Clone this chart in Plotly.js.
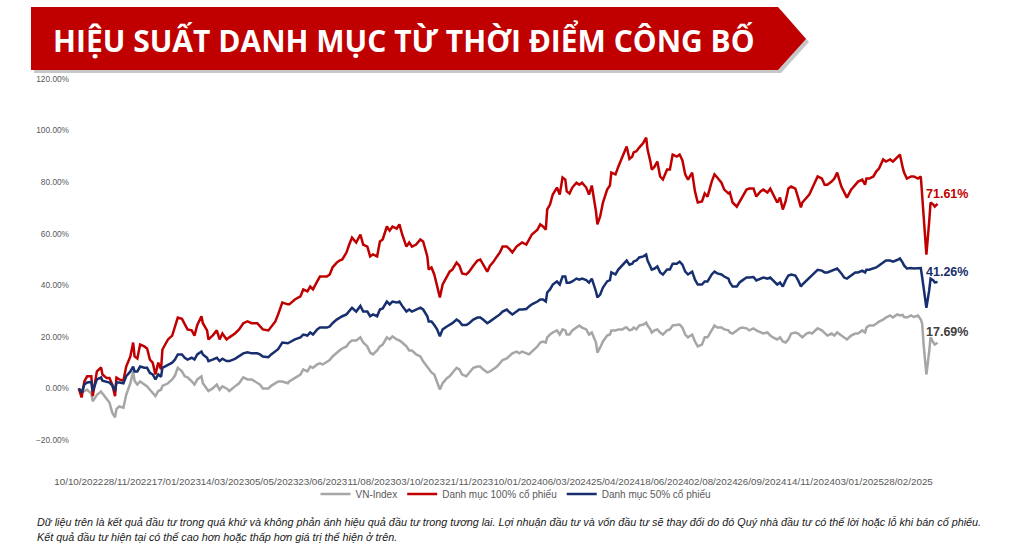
<!DOCTYPE html>
<html>
<head>
<meta charset="utf-8">
<script src="https://cdn.plot.ly/plotly-3.0.1.min.js"></script>
<style>
  html, body { margin: 0; padding: 0; background: #ffffff; }
  #chart { width: 1024px; height: 548px; }
</style>
</head>
<body>
<div id="chart"></div>
<script>
// trading session number since 10/10/2022 (category axis, like the Excel source)
var session = [
  0,2,4,6,9,10,13,16,17,20,22,24,26,27,29,32,34,37,39,40,
  42,44,47,49,51,53,55,57,59,60,64,67,69,71,74,76,78,81,83,85,
  88,89,92,93,96,99,101,103,106,108,112,115,118,121,124,128,130,132,136,138,
  141,143,146,150,
  151,155,159,161,164,166,168,171,173,175,178,180,182,185,187,189,192,194,196,199,
  202,204,207,209,211,214,216,218,221,223,225,228,230,232,235,237,239,242,245,247,
  250,251,253,255,257,259,261,264,266,268,271,273,275,278,280,283,286,288,290,293,
  295,297,300,302,304,307,309,
  311,314,316,318,321,323,325,329,331,333,335,336,338,340,343,345,347,349,350,352,
  354,357,359,361,364,366,368,371,372,374,376,379,381,382,385,387,390,392,393,395,
  397,398,400,402,405,407,408,410,411,413,415,417,419,422,424,426,429,431,433,435,
  437,440,442,444,447,449,451,454,456,458,461,463,466,
  467,469,472,474,476,479,481,484,486,489,491,494,496,498,501,503,505,507,509,511,
  514,516,518,519,522,524,526,528,530,533,535,537,540,542,544,547,549,551,554,557,
  559,562,564,565,567,570,572,574,577,579,582,584,587,589,591,592,594,597,599,602,
  604,605,606,608,610,611,613,614,616
];

var vnIndex = [
  0,-1.6,-1,-0.5,-2,-5,-2.5,-1.2,-2,-4.3,-5.5,-9.4,-11.2,-8,-7,-7.5,-2.5,2,6.6,3,
  1.5,2.7,1.5,0.8,-0.5,-1.6,-3,-1,-0.5,1,2,3.5,5,8,6.6,4.7,4.3,2.7,1.5,3.5,
  4.7,2,0,-1,0,1.5,-0.5,0.8,0,-1,0.8,2,4.3,3.5,3.5,2,1.5,0,0,1,
  2,2.7,2.7,2,
  2.7,4,5.4,7.4,6.6,8.5,8,9.3,9.7,9.3,10.5,11,12.4,13.9,14.7,15.5,16.3,17.8,18.6,18.6,
  19.8,17.8,16.3,13.9,13.2,14.7,16.3,17,19.8,19,20.2,19,18.6,17.8,16.3,14.7,14.7,13.2,12.4,10.5,
  8.5,7.4,6.2,5.4,2.7,-0.4,2,4,4.7,6.2,8,7.4,5.4,4.7,6.2,8,8.5,8.5,7.4,6.2,
  6.6,7.4,8.5,9.7,11,11.6,12.8,
  13.6,14.3,13.6,14.3,13.6,13.2,14.3,16.3,17.8,18.2,17.8,19.8,20.9,21.7,22.5,20.9,22.9,22.5,20.9,20.9,
  22.5,23.6,24.4,23.6,22.9,20.9,21.7,17.8,13.9,15.9,18.2,20.5,20.9,22.5,22.5,22.9,22.9,23.6,23.6,22.5,
  22.9,23.6,22.9,24.4,24.8,25.5,24.4,22.9,21.7,22.5,22.9,21.7,20.9,22.5,22.9,24.4,24.8,24.8,23.6,20.9,
  19.8,20.9,18.2,16.3,17,19.8,19.8,22.9,24.4,23.6,23.6,22.9,22.5,
  21.7,21.3,22.5,23.3,23.6,23.3,22.5,23.3,22.5,21.7,21.3,21.7,20.5,19.8,19,19.8,18.2,17.8,19,21.3,
  21.7,21.3,20.5,19.8,21.3,21.7,21.3,22.5,23.3,22.5,21.3,20.5,21.3,20.5,21.7,20.5,19.8,19,20.5,21.3,
  21.3,22.5,21.7,23.6,24.4,24.4,25.1,25.9,26.7,27.5,28.3,27.5,28.7,28.3,28.5,27.7,27.5,28.3,27.7,28.3,
  26.7,25.1,17,5.4,14.3,19.8,17.8,17,17.69
];

var dm100 = [
  0,-3.5,2.7,4.7,4.7,-3,6.6,8.1,5.4,4,4,1.5,-3,4.2,3.5,3,8.5,12.4,17.8,12.4,
  11.6,17,16.3,15.5,11.2,10,5.4,10,7.4,15.1,19,20.5,24,27.5,27,24.6,22.9,22.5,20.5,24.6,
  28,25.3,22.5,19,20.5,22.5,19,21.3,19,19.8,21.3,22.9,25.3,26,25.3,25.3,24,22.9,22.5,24,
  26,28.7,33.3,32.6,
  32.6,34.5,35.7,38.4,37.6,39.5,38.4,41.5,43.4,43.4,43.4,44.2,46.9,48.8,49.6,50,52.7,55.8,58.5,56.6,
  59.7,55.8,55,51.2,52,51.2,57,57.8,62.8,61.2,62.8,62,63.6,59.7,55,56.6,55,55.8,57.8,57,
  51.2,46.1,46.9,44.2,39.1,35.3,40.3,43,45.3,46.1,48.8,47.6,44.6,44.2,45.3,47.6,49.6,50,48,45.3,
  47.6,48.8,51.2,52.7,55,55,54,
  52.7,55,55.8,56.6,55.8,57.8,59.7,61.6,63.6,62.8,61.6,69.4,71.3,75.2,77.9,75.2,81.8,81,76.4,75.6,
  77.9,79.8,79,79.8,77.9,75.2,78.7,68.6,63.6,66.7,72.1,77.1,78.7,83.7,83,86,89.9,92.6,93.8,89,
  89.9,91.5,92,93.4,95.3,97.3,92.6,88,84.9,86,88,82.2,81,84.9,84.9,90.7,89.9,90.7,88.4,83,
  81,83.7,76.4,72.1,72.5,75.6,74.4,80.2,83,81.8,79.8,77.1,75.6,
  76,72.1,70.5,72.5,74.4,77.1,77.5,77.5,74.4,76.4,77.1,76,77.5,75.2,72.1,74,69.4,72.5,77.5,78.3,
  77.5,74,70.2,72.1,74,75.2,77.5,80.2,82.2,81.4,79,79,80.2,81.4,83.7,78.3,76.4,74,77.1,79,
  80.2,81,79,81.4,81.4,82.2,84.1,85.3,88.8,88,88.8,88,89.5,90.7,85.7,83.7,81.4,82.2,82.2,81.4,
  82.2,75.2,64.7,51.9,64.7,72.1,71.3,70.5,71.61
];

var dm50 = [
  0,-1.6,1.5,2.3,2.5,-1,3.5,4.3,3,2.5,2.3,1.2,-1,2.3,2.3,2,4.7,6.6,8.5,6.6,
  6.6,8.5,8,8,6,5.4,3.5,5.4,4.5,8,9.3,10,11.2,13.2,13.2,11.9,11.2,11.9,11.2,13.2,
  14.3,13.2,11.9,10.6,11.2,11.9,10.6,11.5,10.6,10.6,11.5,12.4,13.6,14,13.6,13.6,13.2,12.4,12.1,13.2,
  14.3,15.2,17.8,17.5,
  17.8,19,19.8,20.9,20.5,21.7,20.9,22.9,23.6,23.6,23.6,24,25.3,26.7,27.5,28,28.7,29.8,31.3,29.8,
  32,29.8,29.8,28,28.7,28,30.6,31,33.7,32.6,33.7,33.3,33.7,32,29.8,30.6,29.8,30.6,31.3,30.6,
  28,26,26,24.6,22.9,20.2,22.9,24,24.6,25.3,26.7,26,24.6,24.6,25.3,26.7,27.5,27.5,26.7,25.3,
  26,26.7,28,28.7,29.8,30.6,29.5,
  28.7,29.8,30.6,30.6,30.8,31.8,32.6,33.7,34.5,34.5,33.7,37.2,38.4,40.3,41.5,40.3,43.4,43.4,41,41,
  41.5,42.6,42.2,42.6,42,41,42.6,37.6,35.3,36.4,39.1,41.5,42,45,44.2,46.1,48,49.2,49.6,48,
  48.4,49.2,49.6,50.8,51.2,51.9,49.6,47.3,46.1,46.5,47.3,45,44.2,46.1,46.1,48.4,48.4,49.2,48,45.3,
  44.2,45.3,42.2,40.3,40.3,41.5,41.5,44.2,45.3,44.6,44.2,43.4,42.6,
  41.1,39.5,39.5,41.1,41.9,43,43,43.2,41.9,42.6,43,42.6,43,41.9,40.3,41.1,39.5,41.9,43.8,44.2,
  43.8,41.9,39.5,40.3,41.9,42.6,43.8,45,46,45.7,45,45,45.7,46,46.5,44.6,43,42.6,43.8,45,
  45,45.7,45,46,46,46.5,46.9,47.7,48.8,49.6,49.6,49.2,49.8,50.4,48.8,47.7,46.5,46.7,46.5,46.5,
  46.7,43,39.1,31.3,38,42.6,41.9,41.1,41.26
];

// one date label every 35 sessions
var tickSessions = [0,35,70,105,140,175,210,245,280,315,350,385,420,455,490,525,560,595];
var tickLabels = [
  '10/10/2022','28/11/2022','17/01/2023','14/03/2023','05/05/2023','23/06/2023',
  '11/08/2023','03/10/2023','21/11/2023','10/01/2024','06/03/2024','25/04/2024',
  '18/06/2024','02/08/2024','26/09/2024','14/11/2024','03/01/2025','28/02/2025'
];

var seriesNames = ['VN-Index', 'Danh mục 100% cổ phiếu', 'Danh mục 50% cổ phiếu'];
var title = 'HIỆU SUẤT DANH MỤC TỪ THỜI ĐIỂM CÔNG BỐ';
var note1 = 'Dữ liệu trên là kết quả đầu tư trong quá khứ và không phản ánh hiệu quả đầu tư trong tương lai. Lợi nhuận đầu tư và vốn đầu tư sẽ thay đổi do đó Quý nhà đầu tư có thể lời hoặc lỗ khi bán cổ phiếu.';
var note2 = 'Kết quả đầu tư hiện tại có thể cao hơn hoặc thấp hơn giá trị thể hiện ở trên.';

var RED = '#C00000', NAVY = '#172F6E', GREY = '#A6A6A6';

// plot area geometry (pixels) so decorations can be placed in paper units
var L = 76, T = 79, W = 895, H = 361;
function px(x) { return (x - L) / W; }
function py(y) { return (T + H - y) / H; }

var traces = [
  { x: session, y: vnIndex, name: seriesNames[0], type: 'scatter', mode: 'lines',
    line: { color: GREY, width: 2.5 } },
  { x: session, y: dm100, name: seriesNames[1], type: 'scatter', mode: 'lines',
    line: { color: RED, width: 2.5 } },
  { x: session, y: dm50, name: seriesNames[2], type: 'scatter', mode: 'lines',
    line: { color: NAVY, width: 2.5 } }
];

var last = session.length - 1;
function endLabel(vals, color, shift) {
  return {
    x: session[last], y: vals[last], xref: 'x', yref: 'y',
    text: '<b>' + vals[last].toFixed(2) + '%</b>', showarrow: false,
    xanchor: 'center', yanchor: 'middle', xshift: 9, yshift: shift,
    font: { family: 'Liberation Sans, Arial, sans-serif', size: 12.5, color: color }
  };
}

var banner = 'M ' + px(31) + ' ' + py(7) + ' L ' + px(778) + ' ' + py(7) +
  ' L ' + px(806) + ' ' + py(39) + ' L ' + px(778) + ' ' + py(70) +
  ' L ' + px(31) + ' ' + py(70) + ' Z';
var shadow = 'M ' + px(34) + ' ' + py(10) + ' L ' + px(781) + ' ' + py(10) +
  ' L ' + px(809) + ' ' + py(42) + ' L ' + px(781) + ' ' + py(73) +
  ' L ' + px(34) + ' ' + py(73) + ' Z';

var layout = {
  width: 1024, height: 548,
  margin: { l: L, r: 1024 - L - W, t: T, b: 548 - T - H, pad: 0 },
  paper_bgcolor: '#ffffff', plot_bgcolor: '#ffffff',
  font: { family: 'Liberation Sans, Arial, sans-serif', color: '#595959' },
  showlegend: true,
  legend: {
    orientation: 'h', x: px(516), y: py(494), xanchor: 'center', yanchor: 'middle',
    font: { size: 10, color: '#595959' }, bgcolor: 'rgba(0,0,0,0)'
  },
  xaxis: {
    type: 'linear', range: [-2, 640],
    tickmode: 'array', tickvals: tickSessions, ticktext: tickLabels, tickangle: 0,
    ticks: '', showgrid: false, zeroline: false, showline: false,
    tickfont: { size: 9.8, color: '#595959' }, ticklabelstandoff: 34
  },
  yaxis: {
    range: [-20, 120], dtick: 20, tick0: 0, tickformat: '.2f', ticksuffix: '%',
    ticks: '', showgrid: false, zeroline: false, showline: false,
    tickfont: { size: 8.3, color: '#595959' }, ticklabelstandoff: 6
  },
  shapes: [
    { type: 'path', xref: 'paper', yref: 'paper', path: shadow,
      fillcolor: 'rgba(0,0,0,0.22)', line: { width: 0 } },
    { type: 'path', xref: 'paper', yref: 'paper', path: banner,
      fillcolor: RED, line: { width: 0 } }
  ],
  annotations: [
    { xref: 'paper', yref: 'paper', x: px(404), y: py(41), text: '<b>' + title + '</b>',
      showarrow: false, xanchor: 'center', yanchor: 'middle',
      font: { family: 'Open Sans, sans-serif', size: 30, color: '#ffffff' } },
    endLabel(dm100, RED, 10),
    endLabel(dm50, NAVY, 10),
    endLabel(vnIndex, '#404040', 11),
    { xref: 'paper', yref: 'paper', x: px(35), y: py(522), text: '<i>' + note1 + '</i>',
      showarrow: false, xanchor: 'left', yanchor: 'middle',
      font: { family: 'Liberation Sans, Arial, sans-serif', size: 10.8, color: '#1a1a1a' } },
    { xref: 'paper', yref: 'paper', x: px(35), y: py(537), text: '<i>' + note2 + '</i>',
      showarrow: false, xanchor: 'left', yanchor: 'middle',
      font: { family: 'Liberation Sans, Arial, sans-serif', size: 10.8, color: '#1a1a1a' } }
  ],
  hovermode: false
};

Plotly.newPlot('chart', traces, layout, { displayModeBar: false, staticPlot: true });
</script>
</body>
</html>
